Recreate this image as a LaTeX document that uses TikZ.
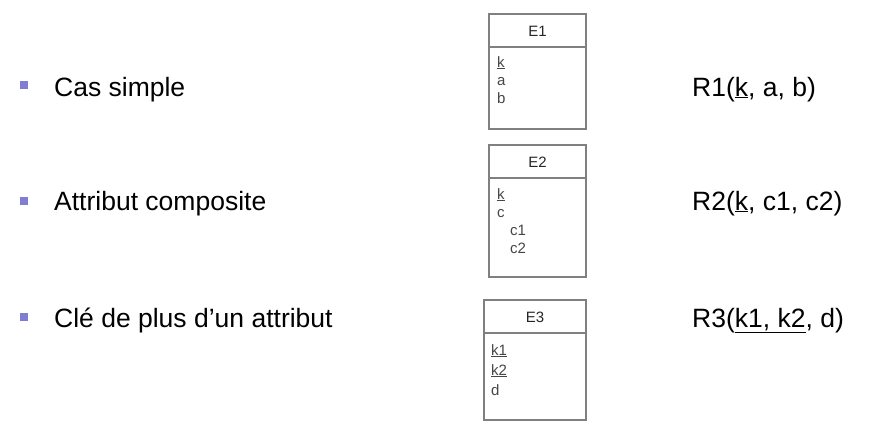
\documentclass[tikz,border=0pt]{standalone}
\usepackage{fontspec}
\setmainfont{Liberation Sans}
\usetikzlibrary{positioning}
\definecolor{bulletblue}{RGB}{128,126,210}
\definecolor{boxgray}{RGB}{128,128,128}
\definecolor{attrgray}{RGB}{70,70,70}
\tikzset{
  entbox/.style={draw=boxgray, line width=1.8pt},
  bullet/.style={fill=bulletblue, minimum size=7.5pt, inner sep=0pt},
  item/.style={anchor=base west, inner sep=0pt, font=\fontsize{26.5}{30}\selectfont},
  ename/.style={inner sep=0pt, text=black!85, font=\fontsize{15}{17}\selectfont},
  attr/.style={anchor=base west, inner sep=0pt, text=attrgray, font=\fontsize{15}{17}\selectfont},
}

\begin{document}
\begin{tikzpicture}[x=1pt,y=-1pt]
\useasboundingbox (0,0) rectangle (884,432);

% puces et libelles
\node[bullet] (b1) at (24,85) {};
\node[bullet] (b2) at (24,201) {};
\node[bullet] (b3) at (24,317) {};
\node[item] (t1) at (54,96) {Cas simple};
\node[item] (t2) at (54,210) {Attribut composite};
\node[item] (t3) at (54,327) {Clé de plus d’un attribut};

% E1
\draw[entbox] (489,14) rectangle (586,129);
\draw[entbox] (489,47) -- (586,47);
\node[ename] (e1) at (537.5,31) {E1};
\node[attr] (e1k) at (497,67) {\underline{k}};
\node[attr] (e1a) at (497,85) {a};
\node[attr] (e1b) at (497,103) {b};

% E2
\draw[entbox] (489,145) rectangle (586,277);
\draw[entbox] (489,178) -- (586,178);
\node[ename] (e2) at (537.5,162) {E2};
\node[attr] (e2k) at (497,199) {\underline{k}};
\node[attr] (e2c) at (497,217) {c};
\node[attr] (e2c1) at (510,235) {c1};
\node[attr] (e2c2) at (510,253) {c2};

% E3
\draw[entbox] (484,300) rectangle (586,420);
\draw[entbox] (484,333) -- (586,333);
\node[ename] (e3) at (535,317) {E3};
\node[attr] (e3k1) at (491,355) {\underline{k1}};
\node[attr] (e3k2) at (491,375) {\underline{k2}};
\node[attr] (e3d) at (491,395) {d};

% relations
\node[item] (r1) at (692,96) {R1(\underline{k}, a, b)};
\node[item] (r2) at (692,210) {R2(\underline{k}, c1, c2)};
\node[item] (r3) at (692,327) {R3(\underline{k1, k2}, d)};
\end{tikzpicture}
\end{document}
